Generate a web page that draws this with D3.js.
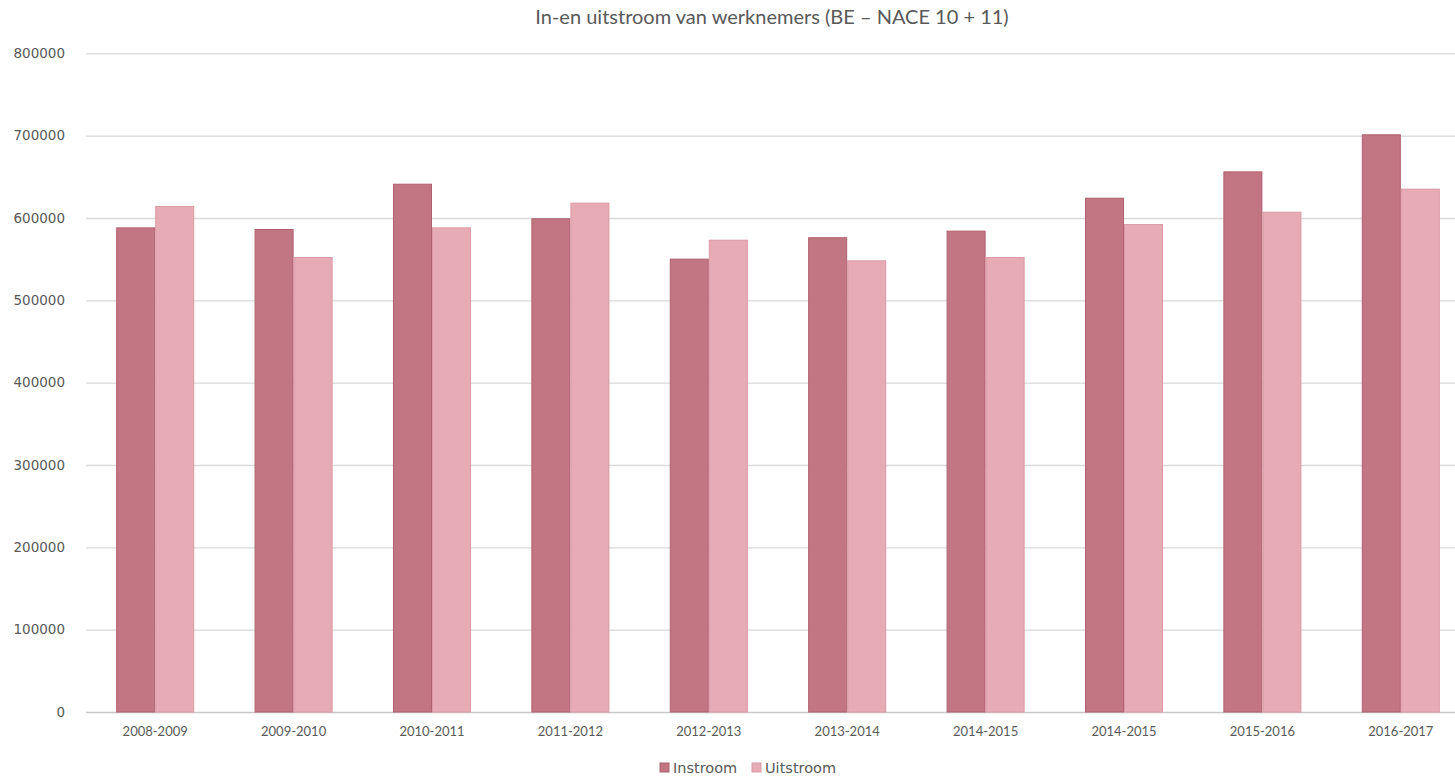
<!DOCTYPE html>
<html>
<head>
<meta charset="utf-8">
<script src="https://cdn.jsdelivr.net/npm/d3@7"></script>
<style>
  body { margin: 0; background: #fff; }
  svg { display: block; }
</style>
</head>
<body>
<div id="chart"></div>
<script>
// data
const periods = ['2008-2009', '2009-2010', '2010-2011', '2011-2012', '2012-2013',
                 '2013-2014', '2014-2015', '2014-2015 ', '2015-2016', '2016-2017'];
const instroom = [588000, 586000, 641000, 599000, 550000, 576000, 584000, 624000, 656000, 701000];
const uitstroom = [614000, 552000, 588000, 618000, 573000, 548000, 552000, 592000, 607000, 635000];
const seriesNames = ['Instroom', 'Uitstroom'];
const yTicks = [0, 100000, 200000, 300000, 400000, 500000, 600000, 700000, 800000];

const W = 1455, H = 780;
const mLeft = 86, mTop = 53.3, mBottom = 712, mRight = 1470;
const fills = ['#c27582', '#e6abb5'];
const strokes = ['#b0606e', '#dc9aa6'];

let svg = d3.select('#chart').append('svg').attr('width', W).attr('height', H);

let x = d3.scaleBand().domain(periods).range([mLeft, mRight]).paddingInner(0.436).paddingOuter(0.218);
let xs = d3.scaleBand().domain(seriesNames).range([0, x.bandwidth()]);
let y = d3.scaleLinear().domain([0, 800000]).range([mBottom, mTop]);

// title
svg.append('text')
    .attr('x', 772).attr('y', 24)
    .attr('text-anchor', 'middle')
    .attr('font-family', 'Lato, sans-serif')
    .attr('font-size', '20px')
    .attr('fill', '#595959')
    .text('In-en uitstroom van werknemers (BE \u2013 NACE 10 + 11)');

// gridlines + y labels
let yAxis = svg.append('g')
    .attr('transform', `translate(${mLeft},0)`)
    .call(d3.axisLeft(y).tickValues(yTicks).tickSize(-(W - mLeft)).tickPadding(21).tickFormat(d3.format('d')));
yAxis.select('.domain').remove();
yAxis.selectAll('.tick line').attr('stroke', d => d == 0 ? '#c8c8c8' : '#d9d9d9').attr('stroke-width', 1.3);
yAxis.selectAll('.tick text')
    .attr('font-family', 'DejaVu Sans, sans-serif')
    .attr('font-size', '13.5px')
    .attr('fill', '#595959');

// bars
let data = periods.map((p, i) => ({ p: p, vals: [instroom[i], uitstroom[i]] }));
let groups = svg.selectAll('g.grp').data(data).enter().append('g')
    .attr('class', 'grp')
    .attr('transform', d => `translate(${x(d.p)},0)`);
groups.selectAll('rect').data(d => d.vals.map((v, k) => ({ v: v, k: k }))).enter().append('rect')
    .attr('x', d => xs(seriesNames[d.k]) + 0.5)
    .attr('y', d => y(d.v))
    .attr('width', xs.bandwidth() - 1)
    .attr('height', d => mBottom - y(d.v))
    .attr('fill', d => fills[d.k])
    .attr('stroke', d => strokes[d.k])
    .attr('stroke-width', 1);

// x labels
let xAxis = svg.append('g')
    .attr('transform', `translate(0,${mBottom})`)
    .call(d3.axisBottom(x).tickSize(0).tickPadding(15).tickFormat(d => d.trim()));
xAxis.select('.domain').remove();
xAxis.selectAll('.tick text')
    .attr('font-family', 'Lato, sans-serif')
    .attr('font-size', '13px')
    .attr('fill', '#595959');

// legend
let legend = svg.append('g').attr('transform', 'translate(660,770)');
let legX = [0, 92];
seriesNames.forEach((s, i) => {
    legend.append('rect')
        .attr('x', legX[i]).attr('y', -7)
        .attr('width', 9).attr('height', 9)
        .attr('fill', fills[i]).attr('stroke', strokes[i]);
    legend.append('text')
        .attr('x', legX[i] + 13).attr('y', 3)
        .attr('font-family', 'DejaVu Sans, sans-serif')
        .attr('font-size', '14.5px')
        .attr('fill', '#595959')
        .text(s);
});
</script>
</body>
</html>
